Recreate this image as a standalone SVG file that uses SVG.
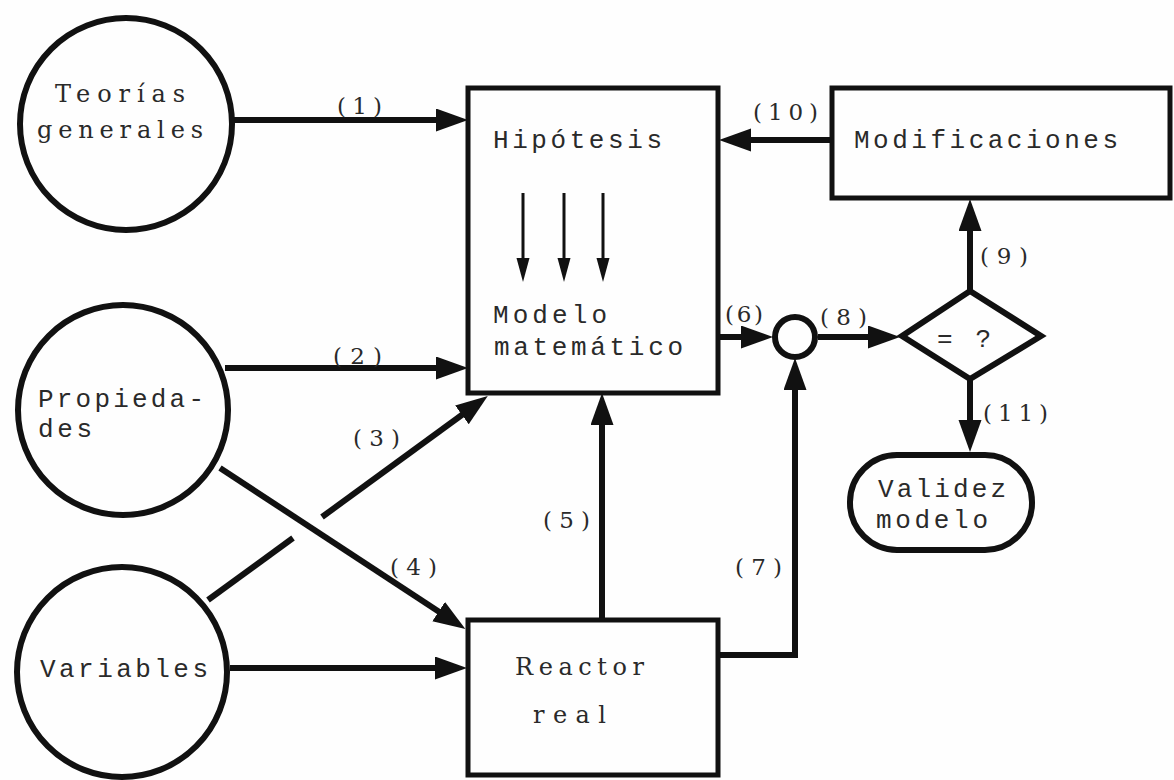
<svg xmlns="http://www.w3.org/2000/svg" width="1174" height="780" viewBox="0 0 1174 780">
  <style>
    .shape { fill: none; stroke: #111; stroke-width: 6; stroke-linejoin: miter; }
    .box { fill: none; stroke: #111; stroke-width: 5; }
    .wire { fill: none; stroke: #111; stroke-width: 6; }
    .thin { fill: none; stroke: #111; stroke-width: 3; }
    .mono { font-family: "Liberation Mono", "DejaVu Sans Mono", monospace; font-size: 26px; fill: #2a2a2a; }
    .serif { font-family: "DejaVu Serif", "Liberation Serif", serif; font-size: 24px; fill: #2a2a2a; }
    .num { font-family: "DejaVu Serif", "Liberation Serif", serif; font-size: 23px; fill: #2a2a2a; }
  </style>
  <defs>
    <marker id="head" markerUnits="userSpaceOnUse" markerWidth="34" markerHeight="24" refX="10" refY="11.5" orient="auto">
      <path d="M0,0 L32,11.5 L0,23 z" fill="#111"/>
    </marker>
    <marker id="headSmall" markerUnits="userSpaceOnUse" markerWidth="26" markerHeight="14" refX="4" refY="6.5" orient="auto">
      <path d="M0,0 L24,6.5 L0,13 z" fill="#111"/>
    </marker>
  </defs>
  <rect width="1174" height="780" fill="#fefefe"/>

  <!-- connectors -->
  <g id="connectors">
    <line class="wire" x1="234" y1="120" x2="446" y2="120" marker-end="url(#head)"/>
    <text class="num" x="337" y="114" textLength="45" lengthAdjust="spacing">(1)</text>

    <line class="wire" x1="225" y1="368" x2="446" y2="368" marker-end="url(#head)"/>
    <text class="num" x="333" y="364" textLength="49" lengthAdjust="spacing">(2)</text>

    <!-- (3): from Variables, broken where it crosses (4) -->
    <line class="wire" x1="208" y1="600" x2="293" y2="538"/>
    <line class="wire" x1="322" y1="517" x2="470" y2="409" marker-end="url(#head)"/>
    <text class="num" x="353" y="446" textLength="47" lengthAdjust="spacing">(3)</text>

    <line class="wire" x1="220" y1="468" x2="447" y2="617" marker-end="url(#head)"/>
    <text class="num" x="390" y="575" textLength="47" lengthAdjust="spacing">(4)</text>

    <line class="wire" x1="230" y1="668" x2="445" y2="668" marker-end="url(#head)"/>

    <line class="wire" x1="602" y1="618" x2="602" y2="415" marker-end="url(#head)"/>
    <text class="num" x="543" y="528" textLength="47" lengthAdjust="spacing">(5)</text>

    <line class="wire" x1="718" y1="337" x2="751" y2="337" marker-end="url(#head)"/>
    <text class="num" x="725" y="322" textLength="38" lengthAdjust="spacing">(6)</text>

    <path class="wire" d="M718,655 H795 V380" marker-end="url(#head)"/>
    <text class="num" x="735" y="575" textLength="47" lengthAdjust="spacing">(7)</text>

    <line class="wire" x1="818" y1="337" x2="878" y2="337" marker-end="url(#head)"/>
    <text class="num" x="820" y="325" textLength="47" lengthAdjust="spacing">(8)</text>

    <line class="wire" x1="970" y1="291" x2="970" y2="221" marker-end="url(#head)"/>
    <text class="num" x="980" y="264" textLength="48" lengthAdjust="spacing">(9)</text>

    <line class="wire" x1="832" y1="140" x2="741" y2="140" marker-end="url(#head)"/>
    <text class="num" x="753" y="120" textLength="65" lengthAdjust="spacing">(10)</text>

    <line class="wire" x1="970" y1="379" x2="970" y2="430" marker-end="url(#head)"/>
    <text class="num" x="983" y="421" textLength="65" lengthAdjust="spacing">(11)</text>
  </g>

  <!-- source nodes -->
  <g id="teorias">
    <circle class="shape" cx="126" cy="124" r="106"/>
    <text class="serif" x="55" y="102" textLength="130" lengthAdjust="spacing">Teorías</text>
    <text class="serif" x="37" y="138" textLength="166" lengthAdjust="spacing">generales</text>
  </g>
  <g id="propiedades">
    <circle class="shape" cx="123" cy="410" r="105"/>
    <text class="mono" x="38" y="407" textLength="166" lengthAdjust="spacing">Propieda-</text>
    <text class="mono" x="38" y="437" textLength="54" lengthAdjust="spacing">des</text>
  </g>
  <g id="variables">
    <circle class="shape" cx="122" cy="672" r="105"/>
    <text class="mono" x="40" y="677" textLength="168" lengthAdjust="spacing">Variables</text>
  </g>

  <!-- model box -->
  <g id="modelo">
    <rect class="box" x="468" y="88" width="250" height="305"/>
    <text class="mono" x="493" y="148" textLength="169" lengthAdjust="spacing">Hipótesis</text>
    <line class="thin" x1="523" y1="193" x2="523" y2="262" marker-end="url(#headSmall)"/>
    <line class="thin" x1="564" y1="193" x2="564" y2="262" marker-end="url(#headSmall)"/>
    <line class="thin" x1="603" y1="193" x2="603" y2="262" marker-end="url(#headSmall)"/>
    <text class="mono" x="493" y="323" textLength="114" lengthAdjust="spacing">Modelo</text>
    <text class="mono" x="494" y="355" textLength="189" lengthAdjust="spacing">matemático</text>
  </g>

  <g id="reactor">
    <rect class="box" x="468" y="620" width="250" height="155"/>
    <text class="serif" x="515" y="675" textLength="129" lengthAdjust="spacing">Reactor</text>
    <text class="serif" x="533" y="723" textLength="73" lengthAdjust="spacing">real</text>
  </g>

  <g id="comparador">
    <circle class="shape" cx="795" cy="337" r="20" stroke-width="5"/>
  </g>

  <g id="decision">
    <polygon class="shape" points="902,336 970,291 1041,336 970,379"/>
    <text class="mono" x="937" y="347" textLength="54" lengthAdjust="spacing">= ?</text>
  </g>

  <g id="modificaciones">
    <rect class="box" x="832" y="88" width="338" height="110"/>
    <text class="mono" x="854" y="148" textLength="264" lengthAdjust="spacing">Modificaciones</text>
  </g>

  <g id="validez">
    <rect class="shape" x="850" y="455" width="182" height="95" rx="47" ry="47"/>
    <text class="mono" x="878" y="497" textLength="128" lengthAdjust="spacing">Validez</text>
    <text class="mono" x="876" y="528" textLength="112" lengthAdjust="spacing">modelo</text>
  </g>
</svg>
